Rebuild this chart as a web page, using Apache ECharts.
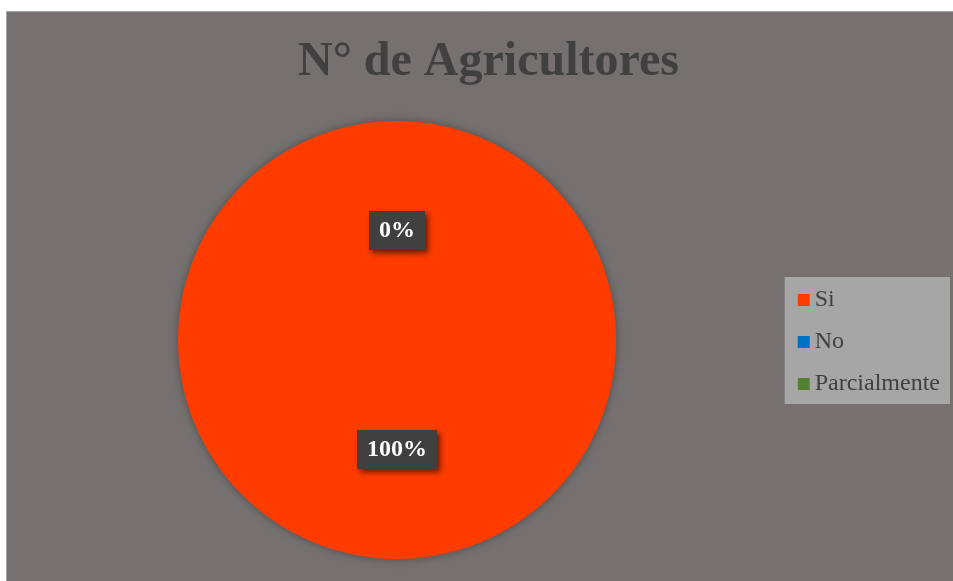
<!DOCTYPE html>
<html>
<head>
<meta charset="utf-8">
<script src="https://cdn.jsdelivr.net/npm/echarts@6/dist/echarts.min.js"></script>
<style>
html,body{margin:0;padding:0;background:#fff;}
#c{width:953px;height:581px;}
</style>
</head>
<body>
<div id="c"></div>
<script>
const titleText = 'N° de Agricultores';
const categories = ['Si', 'No', 'Parcialmente'];
const values = [100, 0, 0];
const colors = ['#FF3C00', '#0070C0', '#548235'];

const chart = echarts.init(document.getElementById('c'), null, {renderer: 'canvas'});
const serif = '"Liberation Serif", "Times New Roman", serif';
chart.setOption({
  backgroundColor: '#ffffff',
  animation: false,
  graphic: [{
    type: 'rect', z: -10,
    shape: {x: 6.5, y: 11.5, width: 960, height: 600},
    style: {fill: '#767171', stroke: '#A6A6A6', lineWidth: 1}
  }],
  title: {
    text: titleText,
    left: 298, top: 39,
    padding: 0,
    textStyle: {fontFamily: serif, fontWeight: 'bold', fontSize: 48, color: '#404040'}
  },
  legend: {
    orient: 'vertical',
    right: 3, top: 277,
    backgroundColor: '#A6A6A6',
    padding: [11, 10, 8, 13],
    itemWidth: 12, itemHeight: 12, itemGap: 18,
    icon: 'rect',
    data: categories,
    textStyle: {fontFamily: serif, fontSize: 24, color: '#404040'}
  },
  series: [{
    type: 'pie',
    center: [397, 340],
    radius: 219,
    startAngle: 90,
    data: categories.map((n, i) => ({
      name: n, value: values[i],
      itemStyle: {color: colors[i]},
      label: {offset: i === 0 ? [0, -3] : [0, 3]}
    })),
    itemStyle: {shadowBlur: 8, shadowColor: 'rgba(0,0,0,0.35)', borderWidth: 0},
    label: {
      show: true,
      position: 'inside',
      formatter: '{d}%',
      fontFamily: serif, fontWeight: 'bold', fontSize: 24, color: '#ffffff',
      backgroundColor: '#404040',
      padding: [8, 10, 7, 10],
      shadowBlur: 6, shadowColor: 'rgba(0,0,0,0.6)', shadowOffsetX: 3, shadowOffsetY: 3
    },
    labelLine: {show: false},
    emphasis: {disabled: true}
  }]
});
</script>
</body>
</html>
